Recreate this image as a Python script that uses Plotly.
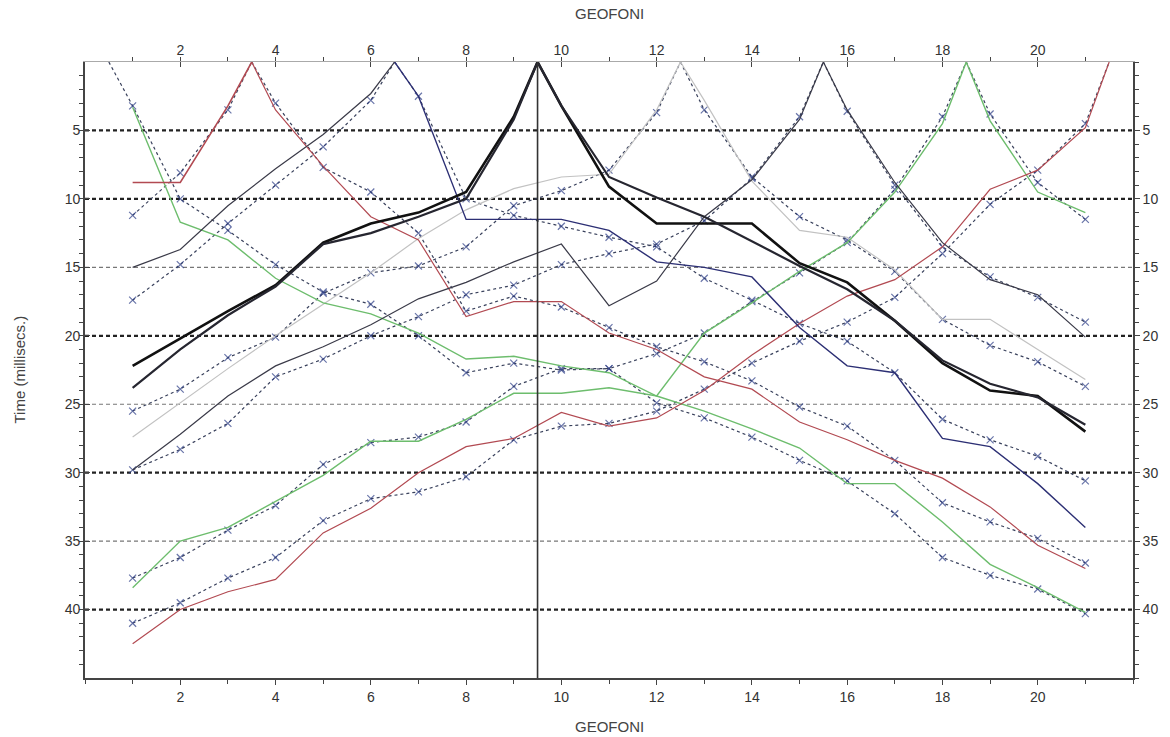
import plotly.graph_objects as go

# ---- axes ----------------------------------------------------------------
GEOFONI = list(range(1, 22))
X_TICKS = [2, 4, 6, 8, 10, 12, 14, 16, 18, 20]
Y_TICKS = [5, 10, 15, 20, 25, 30, 35, 40]
GRID_STRONG = [5, 10, 20, 30, 40]
GRID_LIGHT = [15, 25, 35]
X_RANGE = [0, 22]
T_RANGE = [45, 0]
CENTRE = 9.5

# ---- shot at 0.5 (green) --------------------------------------------------
s05R_obs_x = list(range(1, 22))
s05R_obs_t = [3.3, 11.7, 13.0, 15.8, 17.6, 18.4, 19.8, 21.7, 21.5, 22.2, 22.7,
              24.4, 25.5, 26.8, 28.2, 30.8, 30.8, 33.6, 36.7, 38.4, 40.2]
s05R_calc_x = [0.5] + list(range(1, 22))
s05R_calc_t = [0, 3.2, 10.0, 12.3, 14.8, 16.8, 17.7, 20.0, 22.7, 22.0, 22.5, 22.4,
               24.9, 26.0, 27.4, 29.1, 30.6, 33.0, 36.2, 37.5, 38.5, 40.3]

# ---- shot at 3.5 (red) ----------------------------------------------------
s35L_x = [1, 2, 3, 3.5]
s35L_obs_t = [8.8, 8.8, 3.2, 0]
s35L_calc_t = [11.2, 8.1, 3.5, 0]
s35R_x = [3.5] + list(range(4, 22))
s35R_obs_t = [0, 3.5, 7.6, 11.3, 13.0, 18.6, 17.5, 17.5, 19.8, 21.0, 23.0, 23.9,
              26.3, 27.6, 29.1, 30.4, 32.5, 35.3, 37.0]
s35R_calc_t = [0, 3.0, 7.7, 9.5, 12.5, 18.2, 17.1, 17.9, 19.4, 20.8, 21.9, 23.3,
               25.2, 26.6, 29.1, 32.2, 33.6, 34.8, 36.6]

# ---- shot at 6.5 (navy) ---------------------------------------------------
s65L_x = [1, 2, 3, 4, 5, 6, 6.5]
s65L_obs_t = [15.0, 13.7, 10.5, 7.8, 5.3, 2.3, 0]
s65L_calc_t = [17.4, 14.8, 11.8, 9.0, 6.2, 2.8, 0]
s65R_x = [6.5] + list(range(7, 22))
s65R_obs_t = [0, 2.5, 11.5, 11.5, 11.5, 12.3, 14.6, 15.0, 15.7, 19.4, 22.2, 22.7,
              27.5, 28.1, 30.8, 34.0]
s65R_calc_t = [0, 2.5, 10.0, 11.2, 12.0, 12.8, 13.5, 15.8, 17.4, 19.1, 20.4, 22.7,
               26.1, 27.6, 28.8, 30.6]

# ---- shot at 9.5 (black, two picks) ---------------------------------------
s95L_x = [1, 2, 3, 4, 5, 6, 7, 8, 9, 9.5]
s95L_a_t = [22.2, 20.2, 18.2, 16.3, 13.2, 11.8, 11.0, 9.5, 4.0, 0]
s95L_b_t = [23.8, 21.0, 18.5, 16.4, 13.3, 12.5, 11.3, 10.0, 4.2, 0]
s95R_x = [9.5] + list(range(10, 22))
s95R_a_t = [0, 3.2, 9.1, 11.8, 11.8, 11.8, 14.7, 16.1, 18.9, 22.0, 24.0, 24.4, 27.0]
s95R_b_t = [0, 3.2, 8.4, 9.9, 11.3, 13.1, 14.9, 16.6, 18.9, 21.8, 23.5, 24.5, 26.5]

# ---- shot at 12.5 (grey) --------------------------------------------------
s125L_x = list(range(1, 13)) + [12.5]
s125L_obs_t = [27.4, 24.9, 22.4, 20.0, 17.7, 15.4, 12.9, 10.8, 9.25, 8.4, 8.2, 3.5, 0]
s125L_calc_t = [25.5, 23.9, 21.6, 20.1, 16.9, 15.4, 14.9, 13.5, 10.5, 9.4, 7.9, 3.7, 0]
s125R_x = [12.5] + list(range(13, 22))
s125R_obs_t = [0, 2.8, 8.7, 12.3, 12.8, 15.2, 18.8, 18.8, 21.0, 23.2]
s125R_calc_t = [0, 3.5, 8.4, 11.3, 13.0, 15.3, 18.8, 20.7, 21.9, 23.7]

# ---- shot at 15.5 (dark grey) ---------------------------------------------
s155L_x = list(range(1, 16)) + [15.5]
s155L_obs_t = [29.8, 27.2, 24.4, 22.2, 20.8, 19.2, 17.3, 16.1, 14.6, 13.3, 17.8,
               16.0, 11.3, 8.6, 4.2, 0]
s155L_calc_t = [29.8, 28.3, 26.4, 23.0, 21.7, 20.0, 18.6, 17.0, 16.3, 14.8, 14.0,
                13.3, 11.6, 8.5, 4.0, 0]
s155R_x = [15.5, 16, 17, 18, 19, 20, 21]
s155R_obs_t = [0, 3.5, 8.8, 13.2, 15.9, 17.0, 20.1]
s155R_calc_t = [0, 3.6, 9.0, 13.5, 15.7, 17.2, 19.0]

# ---- shot at 18.5 (green) -------------------------------------------------
s185L_x = list(range(1, 19)) + [18.5]
s185L_obs_t = [38.4, 35.0, 34.0, 32.1, 30.2, 27.7, 27.7, 26.1, 24.2, 24.2, 23.8,
               24.4, 19.8, 17.6, 15.3, 13.2, 9.5, 4.5, 0]
s185L_calc_t = [37.7, 36.2, 34.2, 32.4, 29.4, 27.8, 27.4, 26.3, 23.7, 22.4, 22.4,
                21.3, 19.8, 17.5, 15.4, 13.2, 9.3, 4.0, 0]
s185R_x = [18.5, 19, 20, 21]
s185R_obs_t = [0, 4.3, 9.5, 11.0]
s185R_calc_t = [0, 3.8, 8.8, 11.5]

# ---- shot at 21.5 (red) ---------------------------------------------------
s215L_x = list(range(1, 22)) + [21.5]
s215L_obs_t = [42.5, 40.0, 38.7, 37.8, 34.4, 32.6, 30.0, 28.1, 27.5, 25.6, 26.6,
               26.0, 24.0, 21.4, 19.1, 17.1, 15.9, 13.5, 9.3, 7.9, 4.8, 0]
s215L_calc_t = [41.0, 39.5, 37.7, 36.2, 33.5, 31.9, 31.4, 30.3, 27.6, 26.6, 26.4,
                25.5, 23.9, 22.0, 20.4, 19.0, 17.2, 14.0, 10.4, 7.9, 4.5, 0]

# ---- styling ----------------------------------------------------------------
GREEN = "#6dbd6d"
RED = "#b24a52"
NAVY = "#2c2f74"
BLACK = "#111111"
GREY = "#c2c2c2"
DARK = "#3a3a48"
CALC = "#39415c"
MARK = "#2b3c86"
FONT = "Liberation Sans Narrow, Liberation Sans, Arial, sans-serif"

fig = go.Figure()


def calc(x, t):
    sizes = [7 if float(v).is_integer() else 0 for v in x]
    fig.add_trace(go.Scatter(
        x=x, y=t, mode="lines+markers", hoverinfo="skip", showlegend=False,
        line=dict(color=CALC, width=1.2, dash="3px,3px"),
        marker=dict(symbol="x-thin", size=sizes, line=dict(width=1.2, color=MARK)),
    ))


def obs(x, t, color, width=1.2):
    fig.add_trace(go.Scatter(
        x=x, y=t, mode="lines", hoverinfo="skip", showlegend=False,
        line=dict(color=color, width=width),
    ))


# computed (dashed) first, observed picks on top
calc(s05R_calc_x, s05R_calc_t)
calc(s35L_x, s35L_calc_t)
calc(s35R_x, s35R_calc_t)
calc(s65L_x, s65L_calc_t)
calc(s65R_x, s65R_calc_t)
calc(s125L_x, s125L_calc_t)
calc(s125R_x, s125R_calc_t)
calc(s155L_x, s155L_calc_t)
calc(s155R_x, s155R_calc_t)
calc(s185L_x, s185L_calc_t)
calc(s185R_x, s185R_calc_t)
calc(s215L_x, s215L_calc_t)

obs(s125L_x, s125L_obs_t, GREY)
obs(s125R_x, s125R_obs_t, GREY)
obs(s05R_obs_x, s05R_obs_t, GREEN, 1.4)
obs(s185L_x, s185L_obs_t, GREEN, 1.4)
obs(s185R_x, s185R_obs_t, GREEN, 1.4)
obs(s35L_x, s35L_obs_t, RED, 1.6)
obs(s35R_x, s35R_obs_t, RED, 1.2)
obs(s215L_x, s215L_obs_t, RED, 1.2)
obs(s65L_x, s65L_obs_t, DARK)
obs(s65R_x, s65R_obs_t, NAVY, 1.4)
obs(s155L_x, s155L_obs_t, DARK)
obs(s155R_x, s155R_obs_t, DARK)
obs(s95L_x, s95L_a_t, BLACK, 2.6)
obs(s95L_x, s95L_b_t, "#262630", 2.2)
obs(s95R_x, s95R_a_t, BLACK, 2.6)
obs(s95R_x, s95R_b_t, "#262630", 2.2)

# invisible trace so the mirrored top/right axes are drawn
fig.add_trace(go.Scatter(x=[X_RANGE[0]], y=[T_RANGE[1]], xaxis="x2", yaxis="y2",
                         mode="markers", marker=dict(opacity=0), hoverinfo="skip",
                         showlegend=False))

shapes = []
for v in GRID_STRONG:
    shapes.append(dict(type="line", xref="x", yref="y", x0=X_RANGE[0], x1=X_RANGE[1],
                       y0=v, y1=v, layer="below",
                       line=dict(color="#222222", width=2.2, dash="4px,3px")))
for v in GRID_LIGHT:
    shapes.append(dict(type="line", xref="x", yref="y", x0=X_RANGE[0], x1=X_RANGE[1],
                       y0=v, y1=v, layer="below",
                       line=dict(color="#777777", width=1.1, dash="4px,3px")))
shapes.append(dict(type="line", xref="x", yref="y", x0=CENTRE, x1=CENTRE,
                   y0=T_RANGE[0], y1=T_RANGE[1], layer="above",
                   line=dict(color="#333333", width=1.6)))

tickfont = dict(family=FONT, size=14, color="#333333")
xcommon = dict(range=X_RANGE, tickvals=X_TICKS, ticklen=5, tickcolor="#444",
               tickfont=tickfont, showgrid=False, zeroline=False,
               minor=dict(dtick=1, tick0=0, ticklen=4, tickcolor="#444", showgrid=False))
ycommon = dict(range=T_RANGE, tickvals=Y_TICKS, ticklen=5, tickcolor="#444",
               tickfont=tickfont, showgrid=False, zeroline=False,
               minor=dict(dtick=1, tick0=0, ticklen=4, tickcolor="#444", showgrid=False))

fig.update_layout(
    width=1170, height=737,
    margin=dict(l=85, r=27, t=62, b=59),
    paper_bgcolor="white", plot_bgcolor="white",
    font=dict(family=FONT, color="#333333"),
    showlegend=False,
    shapes=shapes,
    xaxis=dict(**xcommon, side="bottom", ticks="outside", showline=True,
               linecolor="#444444", linewidth=1.6, mirror=False),
    xaxis2=dict(**xcommon, side="top", overlaying="x", ticks="inside", showline=True,
                linecolor="#aaaaaa", linewidth=1.4),
    yaxis=dict(**ycommon, side="left", ticks="inside", showline=True,
               linecolor="#444444", linewidth=1.6),
    yaxis2=dict(**ycommon, side="right", overlaying="y", ticks="outside", showline=True,
                linecolor="#444444", linewidth=1.6),
    annotations=[
        dict(text="GEOFONI", xref="paper", yref="paper", x=0.5, y=0, xanchor="center",
             yanchor="top", yshift=-38, showarrow=False,
             font=dict(family=FONT, size=15, color="#444444")),
        dict(text="GEOFONI", xref="paper", yref="paper", x=0.5, y=1, xanchor="center",
             yanchor="bottom", yshift=38, showarrow=False,
             font=dict(family=FONT, size=15, color="#444444")),
        dict(text="Time (millisecs.)", xref="paper", yref="paper", x=0, y=0.5,
             xanchor="right", yanchor="middle", xshift=-56, textangle=-90,
             showarrow=False, font=dict(family=FONT, size=15, color="#444444")),
    ],
)

fig.write_html("out.html")
